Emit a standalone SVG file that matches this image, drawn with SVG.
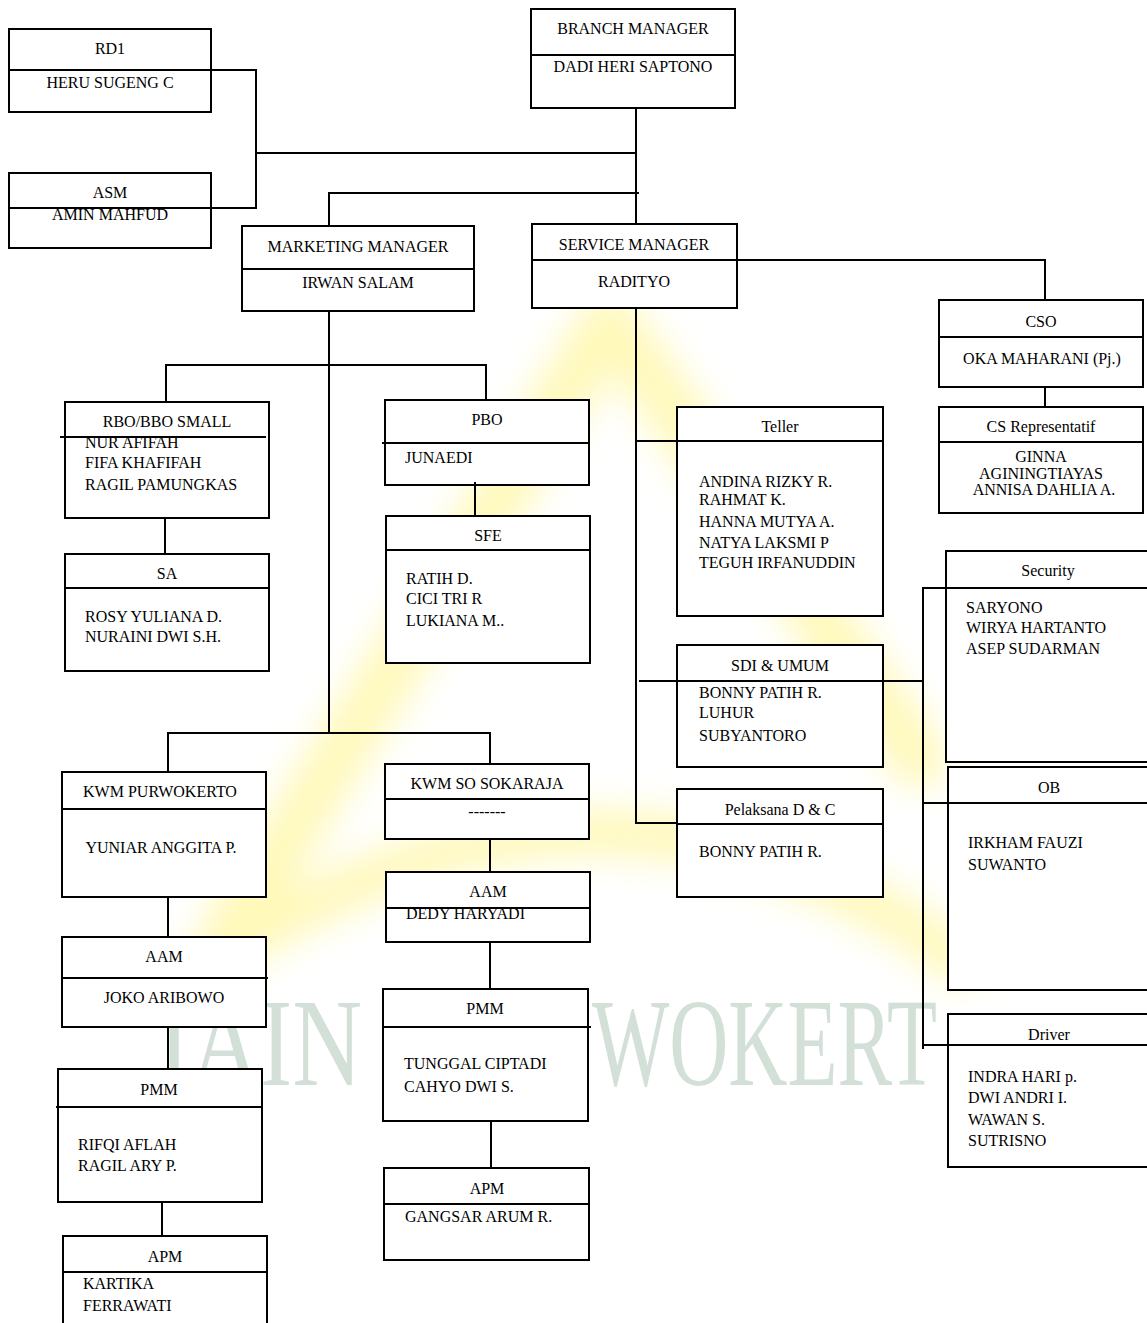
<svg xmlns="http://www.w3.org/2000/svg" width="1147" height="1323" viewBox="0 0 1147 1323">
<defs>
<style>
.box{fill:#fff;stroke:#000;stroke-width:2}
.div{stroke:#000;stroke-width:2}
.t{font-family:"Liberation Serif","Times New Roman",serif;font-size:16px;fill:#000}
.c{text-anchor:middle}
.con{fill:none;stroke:#000;stroke-width:2}
.wm{font-family:"Liberation Serif","Times New Roman",serif;font-size:124px;fill:#d3e0d8}
</style>
<filter id="blur" x="-20%" y="-20%" width="140%" height="140%"><feGaussianBlur stdDeviation="18"/></filter>
</defs>
<rect width="1147" height="1323" fill="#fff"/>
<g id="watermark">
<g filter="url(#blur)" fill="none" stroke="#fff48a" stroke-linecap="round" stroke-linejoin="round" opacity="0.6">
<path d="M230 930 L610 320 L920 760" stroke-width="55"/>
<path d="M200 970 Q600 700 960 960" stroke-width="45"/>
</g>
<text class="wm" transform="translate(158,1085) scale(0.78,1)">IAIN</text>
<text class="wm" transform="translate(592,1085) scale(0.66,1)">WOKERT</text>
</g>
<g id="rd1"><rect class="box" x="9" y="29" width="202" height="83"/><line class="div" x1="9" y1="70" x2="211" y2="70"/><text class="t c" x="110" y="54">RD1</text><text class="t c" x="110" y="88">HERU SUGENG C</text></g>
<g id="asm"><rect class="box" x="9" y="173" width="202" height="75"/><line class="div" x1="9" y1="208" x2="211" y2="208"/><text class="t c" x="110" y="198">ASM</text><text class="t c" x="110" y="220">AMIN MAHFUD</text></g>
<g id="branch-manager"><rect class="box" x="531" y="9" width="204" height="99"/><line class="div" x1="531" y1="55" x2="735" y2="55"/><text class="t c" x="633" y="34">BRANCH MANAGER</text><text class="t c" x="633" y="72">DADI HERI SAPTONO</text></g>
<g id="marketing-manager"><rect class="box" x="242" y="226" width="232" height="85"/><line class="div" x1="242" y1="269" x2="474" y2="269"/><text class="t c" x="358" y="252">MARKETING MANAGER</text><text class="t c" x="358" y="288">IRWAN SALAM</text></g>
<g id="service-manager"><rect class="box" x="532" y="224" width="205" height="84"/><line class="div" x1="532" y1="260" x2="737" y2="260"/><text class="t c" x="634" y="250">SERVICE MANAGER</text><text class="t c" x="634" y="287">RADITYO</text></g>
<g id="cso"><rect class="box" x="939" y="300" width="204" height="87"/><line class="div" x1="939" y1="337" x2="1143" y2="337"/><text class="t c" x="1041" y="327">CSO</text><text class="t c" x="1042" y="364">OKA MAHARANI (Pj.)</text></g>
<g id="cs-representatif"><rect class="box" x="939" y="407" width="204" height="106"/><line class="div" x1="939" y1="442" x2="1143" y2="442"/><text class="t c" x="1041" y="432">CS Representatif</text><text class="t c" x="1041" y="462">GINNA</text><text class="t c" x="1041" y="479">AGININGTIAYAS</text><text class="t c" x="1044" y="495">ANNISA DAHLIA A.</text></g>
<g id="rbo"><rect class="box" x="65" y="402" width="204" height="116"/><line class="div" x1="60" y1="437" x2="266" y2="437"/><text class="t c" x="167" y="427">RBO/BBO SMALL</text><text class="t" x="85" y="448">NUR AFIFAH</text><text class="t" x="85" y="468">FIFA KHAFIFAH</text><text class="t" x="85" y="490">RAGIL PAMUNGKAS</text></g>
<g id="sa"><rect class="box" x="65" y="554" width="204" height="117"/><line class="div" x1="65" y1="588" x2="269" y2="588"/><text class="t c" x="167" y="579">SA</text><text class="t" x="85" y="622">ROSY YULIANA D.</text><text class="t" x="85" y="642">NURAINI DWI S.H.</text></g>
<g id="pbo"><rect class="box" x="385" y="400" width="204" height="85"/><line class="div" x1="382" y1="443" x2="589" y2="443"/><text class="t c" x="487" y="425">PBO</text><text class="t" x="405" y="463">JUNAEDI</text></g>
<g id="sfe"><rect class="box" x="386" y="516" width="204" height="147"/><line class="div" x1="386" y1="550" x2="590" y2="550"/><text class="t c" x="488" y="541">SFE</text><text class="t" x="406" y="584">RATIH D.</text><text class="t" x="406" y="604">CICI TRI R</text><text class="t" x="406" y="626">LUKIANA M..</text></g>
<g id="kwm-purwokerto"><rect class="box" x="62" y="772" width="204" height="125"/><line class="div" x1="62" y1="809" x2="266" y2="809"/><text class="t c" x="160" y="797">KWM PURWOKERTO</text><text class="t c" x="161" y="853">YUNIAR ANGGITA P.</text></g>
<g id="aam-left"><rect class="box" x="62" y="937" width="204" height="90"/><line class="div" x1="62" y1="978" x2="268" y2="978"/><text class="t c" x="164" y="962">AAM</text><text class="t c" x="164" y="1003">JOKO ARIBOWO</text></g>
<g id="pmm-left"><rect class="box" x="58" y="1069" width="204" height="133"/><line class="div" x1="56" y1="1107" x2="262" y2="1107"/><text class="t c" x="159" y="1095">PMM</text><text class="t" x="78" y="1150">RIFQI AFLAH</text><text class="t" x="78" y="1171">RAGIL ARY P.</text></g>
<g id="apm-left"><rect class="box" x="63" y="1236" width="204" height="100"/><line class="div" x1="63" y1="1272" x2="267" y2="1272"/><text class="t c" x="165" y="1262">APM</text><text class="t" x="83" y="1289">KARTIKA</text><text class="t" x="83" y="1311">FERRAWATI</text></g>
<g id="kwm-sokaraja"><rect class="box" x="385" y="764" width="204" height="75"/><line class="div" x1="385" y1="799" x2="589" y2="799"/><text class="t c" x="487" y="789">KWM SO SOKARAJA</text><text class="t c" x="487" y="817">-------</text></g>
<g id="aam-right"><rect class="box" x="386" y="872" width="204" height="70"/><line class="div" x1="386" y1="908" x2="590" y2="908"/><text class="t c" x="488" y="897">AAM</text><text class="t" x="406" y="919">DEDY HARYADI</text></g>
<g id="pmm-right"><rect class="box" x="383" y="989" width="205" height="132"/><line class="div" x1="383" y1="1027" x2="591" y2="1027"/><text class="t c" x="485" y="1014">PMM</text><text class="t" x="404" y="1069">TUNGGAL CIPTADI</text><text class="t" x="404" y="1092">CAHYO DWI S.</text></g>
<g id="apm-right"><rect class="box" x="384" y="1168" width="205" height="92"/><line class="div" x1="384" y1="1204" x2="590" y2="1204"/><text class="t c" x="487" y="1194">APM</text><text class="t" x="405" y="1222">GANGSAR ARUM R.</text></g>
<g id="teller"><rect class="box" x="677" y="407" width="206" height="209"/><line class="div" x1="677" y1="441" x2="883" y2="441"/><text class="t c" x="780" y="432">Teller</text><text class="t" x="699" y="487">ANDINA RIZKY R.</text><text class="t" x="699" y="505">RAHMAT K.</text><text class="t" x="699" y="527">HANNA MUTYA A.</text><text class="t" x="699" y="548">NATYA LAKSMI P</text><text class="t" x="699" y="568">TEGUH IRFANUDDIN</text></g>
<g id="sdi-umum"><rect class="box" x="677" y="645" width="206" height="122"/><line class="div" x1="677" y1="681" x2="883" y2="681"/><text class="t c" x="780" y="671">SDI &amp; UMUM</text><text class="t" x="699" y="698">BONNY PATIH R.</text><text class="t" x="699" y="718">LUHUR</text><text class="t" x="699" y="741">SUBYANTORO</text></g>
<g id="pelaksana"><rect class="box" x="677" y="789" width="206" height="108"/><line class="div" x1="677" y1="824" x2="883" y2="824"/><text class="t c" x="780" y="815">Pelaksana D &amp; C</text><text class="t" x="699" y="857">BONNY PATIH R.</text></g>
<g id="security"><rect class="box" x="946" y="551" width="204" height="211"/><line class="div" x1="946" y1="588" x2="1150" y2="588"/><text class="t c" x="1048" y="576">Security</text><text class="t" x="966" y="613">SARYONO</text><text class="t" x="966" y="633">WIRYA HARTANTO</text><text class="t" x="966" y="654">ASEP SUDARMAN</text></g>
<g id="ob"><rect class="box" x="948" y="767" width="202" height="223"/><line class="div" x1="948" y1="803" x2="1150" y2="803"/><text class="t c" x="1049" y="793">OB</text><text class="t" x="968" y="848">IRKHAM FAUZI</text><text class="t" x="968" y="870">SUWANTO</text></g>
<g id="driver"><rect class="box" x="948" y="1014" width="202" height="153"/><line class="div" x1="948" y1="1045" x2="1150" y2="1045"/><text class="t c" x="1049" y="1040">Driver</text><text class="t" x="968" y="1082">INDRA HARI p.</text><text class="t" x="968" y="1103">DWI ANDRI I.</text><text class="t" x="968" y="1125">WAWAN S.</text><text class="t" x="968" y="1146">SUTRISNO</text></g>
<g id="connectors" class="con">
<path d="M211 70 H256 V208 H211"/>
<path d="M256 153 H636"/>
<path d="M636 108 V224"/>
<path d="M329 226 V193 H639"/>
<path d="M737 260 H1045 V300"/>
<path d="M1045 387 V407"/>
<path d="M329 311 V733"/>
<path d="M166 402 V365 H486 V400"/>
<path d="M165 518 V554"/>
<path d="M475 482 V516"/>
<path d="M168 772 V733 H490 V764"/>
<path d="M168 897 V937"/>
<path d="M168 1027 V1069"/>
<path d="M162 1202 V1236"/>
<path d="M490 839 V872"/>
<path d="M490 942 V989"/>
<path d="M491 1121 V1168"/>
<path d="M636 308 V823 H677"/>
<path d="M636 441 H677"/>
<path d="M639 681 H924"/>
<path d="M923 1049 V588 H946"/>
<path d="M923 803 H948"/>
<path d="M923 1045 H948"/>
</g>
</svg>
